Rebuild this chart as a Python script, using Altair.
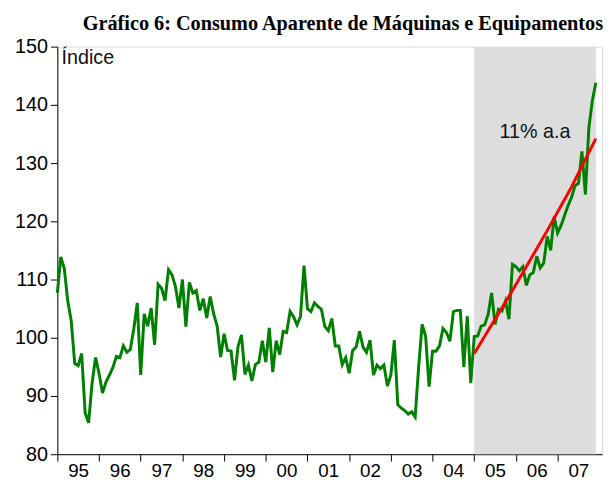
import altair as alt
import pandas as pd

title_text = "Gráfico 6: Consumo Aparente de Máquinas e Equipamentos"
year_labels = ["95", "96", "97", "98", "99", "00", "01", "02", "03", "04", "05", "06", "07"]

# Monthly index, Jan 1995 .. Dec 2007
values = [
    107.7, 113.9, 111.9, 106.3, 102.9, 95.6, 95.2, 97.3, 87.1, 85.4, 92.2, 96.6,
    93.9, 90.5, 92.4, 93.6, 94.9, 96.8, 96.6, 98.6, 97.5, 98.0, 101.5, 106.0,
    93.6, 104.1, 102.0, 105.1, 98.8, 109.2, 108.5, 106.4, 111.7, 110.8, 108.8, 105.1,
    110.0, 101.9, 109.5, 107.7, 108.1, 104.7, 106.7, 103.4, 107.1, 104.1, 102.0, 96.7,
    100.7, 97.8, 97.7, 92.7, 98.5, 100.5, 93.7, 95.3, 92.6, 95.4, 95.8, 99.5,
    95.8, 101.7, 94.1, 99.5, 97.1, 101.1, 100.9, 104.5, 103.6, 102.2, 103.7, 112.4,
    105.0, 104.5, 106.0, 105.4, 104.9, 101.9, 101.2, 103.3, 98.6, 98.6, 95.4, 96.6,
    93.9, 97.8, 98.4, 101.1, 98.4, 97.5, 99.6, 93.6, 95.3, 94.7, 95.3, 91.7,
    93.6, 99.6, 88.5, 87.9, 87.5, 86.9, 87.3, 86.4, 95.0, 102.3, 100.3, 91.6,
    97.7, 97.7, 98.6, 101.6, 100.9, 99.4, 104.5, 104.7, 104.7, 95.0, 103.7, 92.2,
    100.2, 100.3, 102.0, 102.2, 104.0, 107.7, 102.3, 104.9, 104.6, 106.3, 103.2, 112.6,
    112.2, 111.5, 112.2, 109.0, 110.8, 111.2, 114.0, 112.0, 112.8, 117.4, 115.0, 120.8,
    118.0, 119.3, 121.0, 122.7, 124.1, 126.1, 126.5, 132.0, 124.6, 136.1, 140.7, 143.8,
]

# Trend line, month index from Jan 1995
trend_months = [120, 131, 141, 148, 155]
trend_values = [97.3, 108.1, 118.4, 125.9, 134.2]

shade_start = [120]
shade_end = [155]

annotation_text = ["11% a.a"]
annotation_month = [137.5]
annotation_value = [135.4]

ylabel_text = ["Índice"]
ylabel_month = [1.2]
ylabel_value = [148.0]

W, H = 552, 413
x_dom = [0, 156.8]
y_dom = [80, 150]

df = pd.DataFrame({"m": list(range(len(values))), "v": values})
df_trend = pd.DataFrame({"m": trend_months, "v": trend_values})
df_shade = pd.DataFrame({"s": shade_start, "e": shade_end, "y0": [80], "y1": [150]})
df_ann = pd.DataFrame({"m": annotation_month, "v": annotation_value, "t": annotation_text})
df_lab = pd.DataFrame({"m": ylabel_month, "v": ylabel_value, "t": ylabel_text})

label_arr = "[" + ",".join("'" + s + "'" for s in year_labels) + "]"

xscale = alt.Scale(domain=x_dom, nice=False, zero=False)
yscale = alt.Scale(domain=y_dom, nice=False, zero=False)

xaxis = alt.Axis(
    values=[12 * i for i in range(len(year_labels))],
    labelExpr=label_arr + "[round(datum.value/12)]",
    labelOffset=21, tickSize=7, tickColor="black", domainColor="black",
    labelFontSize=19, labelFont="Liberation Sans", labelColor="black",
    labelPadding=1, grid=False, title=None, labelFlush=False, labelOverlap=False,
)
yaxis = alt.Axis(
    values=list(range(80, 151, 10)), tickSize=7, tickColor="black",
    domainColor="black", labelFontSize=20, labelFont="Liberation Sans",
    labelColor="black", labelPadding=3, grid=False, title=None,
)

shade = alt.Chart(df_shade).mark_rect(color="#dddddd").encode(
    x=alt.X("s:Q", scale=xscale, axis=xaxis),
    x2="e:Q",
    y=alt.Y("y0:Q", scale=yscale, axis=yaxis),
    y2="y1:Q",
)

line = alt.Chart(df).mark_line(color="#008000", strokeWidth=3).encode(
    x=alt.X("m:Q", scale=xscale),
    y=alt.Y("v:Q", scale=yscale),
)

trend = alt.Chart(df_trend).mark_line(color="#ff0000", strokeWidth=3).encode(
    x=alt.X("m:Q", scale=xscale),
    y=alt.Y("v:Q", scale=yscale),
)

ann = alt.Chart(df_ann).mark_text(
    font="Liberation Sans", fontSize=20, color="#111111", align="center", baseline="middle"
).encode(x=alt.X("m:Q", scale=xscale), y=alt.Y("v:Q", scale=yscale), text="t:N")

lab = alt.Chart(df_lab).mark_text(
    font="Liberation Sans", fontSize=20, color="#111111", align="left", baseline="middle"
).encode(x=alt.X("m:Q", scale=xscale), y=alt.Y("v:Q", scale=yscale), text="t:N")

chart = alt.layer(shade, line, trend, ann, lab).properties(
    width=W, height=H,
    title=alt.TitleParams(
        text=title_text, font="Liberation Serif", fontSize=20.5, fontWeight="bold",
        color="black", anchor="end", offset=2, dx=1,
    ),
    autosize=alt.AutoSizeParams(type="none"),
    padding={"left": 50, "top": 36, "right": 6, "bottom": 24},
).configure_view(stroke="black", strokeWidth=1.2).configure(background="white")

chart.save("out.html", embed_options={"renderer": "svg", "actions": False})
